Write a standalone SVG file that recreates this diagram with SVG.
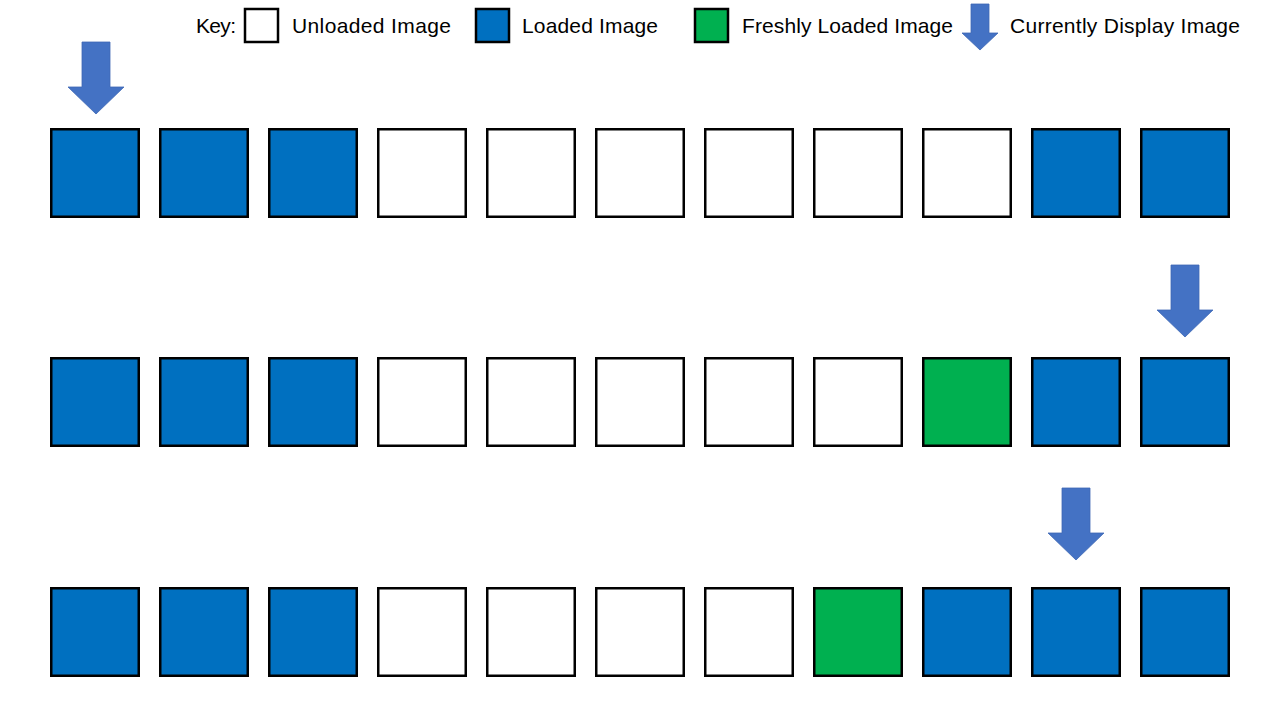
<svg xmlns="http://www.w3.org/2000/svg" width="1280" height="720" viewBox="0 0 1280 720">
<style>
.sq{stroke:#000;stroke-width:2.5}
.w{fill:#fff}.b{fill:#0070C0}.g{fill:#00B050}
.arr{fill:#4472C4;stroke:#3F68B5;stroke-width:0.8}
.t{font-family:"Liberation Sans",Arial,sans-serif;font-size:21px;fill:#000}
</style>
<defs>
<polygon id="arrow" points="-14,0 14,0 14,45 28,45 0,72 -28,45 -14,45"/>
<rect id="s" width="87.5" height="87.5"/>
</defs>
<rect width="1280" height="720" fill="#fff"/>
<g id="key">
<text class="t" x="196" y="33" textLength="40">Key:</text>
<rect class="sq w" x="245" y="9" width="33" height="33"/>
<text class="t" x="292" y="33" textLength="159">Unloaded Image</text>
<rect class="sq b" x="476" y="9" width="33" height="33"/>
<text class="t" x="522" y="33" textLength="136">Loaded Image</text>
<rect class="sq g" x="695" y="9" width="33" height="33"/>
<text class="t" x="742" y="33" textLength="211">Freshly Loaded Image</text>
<polygon class="arr" points="971,4 989,4 989,33 998,33 980,50 962,33 971,33"/>
<text class="t" x="1010" y="33" textLength="230">Currently Display Image</text>
</g>
<g id="row1">
<use href="#s" class="sq b" x="51.25" y="129.25"/>
<use href="#s" class="sq b" x="160.25" y="129.25"/>
<use href="#s" class="sq b" x="269.25" y="129.25"/>
<use href="#s" class="sq w" x="378.25" y="129.25"/>
<use href="#s" class="sq w" x="487.25" y="129.25"/>
<use href="#s" class="sq w" x="596.25" y="129.25"/>
<use href="#s" class="sq w" x="705.25" y="129.25"/>
<use href="#s" class="sq w" x="814.25" y="129.25"/>
<use href="#s" class="sq w" x="923.25" y="129.25"/>
<use href="#s" class="sq b" x="1032.25" y="129.25"/>
<use href="#s" class="sq b" x="1141.25" y="129.25"/>
</g>
<g id="row2">
<use href="#s" class="sq b" x="51.25" y="358.25"/>
<use href="#s" class="sq b" x="160.25" y="358.25"/>
<use href="#s" class="sq b" x="269.25" y="358.25"/>
<use href="#s" class="sq w" x="378.25" y="358.25"/>
<use href="#s" class="sq w" x="487.25" y="358.25"/>
<use href="#s" class="sq w" x="596.25" y="358.25"/>
<use href="#s" class="sq w" x="705.25" y="358.25"/>
<use href="#s" class="sq w" x="814.25" y="358.25"/>
<use href="#s" class="sq g" x="923.25" y="358.25"/>
<use href="#s" class="sq b" x="1032.25" y="358.25"/>
<use href="#s" class="sq b" x="1141.25" y="358.25"/>
</g>
<g id="row3">
<use href="#s" class="sq b" x="51.25" y="588.25"/>
<use href="#s" class="sq b" x="160.25" y="588.25"/>
<use href="#s" class="sq b" x="269.25" y="588.25"/>
<use href="#s" class="sq w" x="378.25" y="588.25"/>
<use href="#s" class="sq w" x="487.25" y="588.25"/>
<use href="#s" class="sq w" x="596.25" y="588.25"/>
<use href="#s" class="sq w" x="705.25" y="588.25"/>
<use href="#s" class="sq g" x="814.25" y="588.25"/>
<use href="#s" class="sq b" x="923.25" y="588.25"/>
<use href="#s" class="sq b" x="1032.25" y="588.25"/>
<use href="#s" class="sq b" x="1141.25" y="588.25"/>
</g>
<g id="pointers">
<use href="#arrow" class="arr" x="96" y="42"/>
<use href="#arrow" class="arr" x="1185" y="265"/>
<use href="#arrow" class="arr" x="1076" y="488"/>
</g>
</svg>
